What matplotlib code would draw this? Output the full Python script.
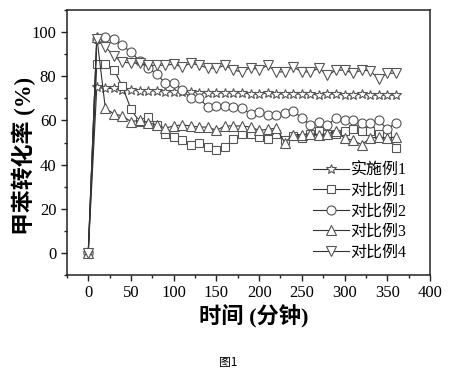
import numpy as np
import matplotlib
matplotlib.use('Agg')
import matplotlib.pyplot as plt
from matplotlib.ticker import MultipleLocator

plt.rcParams['font.family'] = ['Liberation Serif', 'Noto Sans CJK SC']
plt.rcParams['axes.unicode_minus'] = False

# time in minutes, 0..360 every 10
t = np.arange(0, 370, 10)

shishi1 = [0, 75, 74.5, 74.5, 74, 74, 73.5, 73.5, 73.5, 73, 73, 73, 73, 72.5, 72.5,
           72.5, 72.5, 72.5, 72.5, 72, 72, 72.5, 72, 72, 72, 72, 72, 71.5, 72, 72,
           71.5, 71.5, 72, 71.5, 71.5, 71.5, 71.5]
duibi1 = [0, 85.5, 85.5, 83, 75.5, 65, 59.5, 61.5, 58, 54, 52.5, 51, 49, 50, 48,
          46.5, 48, 51.5, 54, 54, 52.5, 51.5, 54, 51, 53, 52, 54, 55, 54, 54,
          55, 56, 55, 55, 54, 53, 47.5]
duibi2 = [0, 97, 98, 97, 94, 91, 87, 84, 81, 77, 77, 74, 70, 70, 66,
          66.5, 66.5, 66, 65.5, 63, 64, 62.5, 62.5, 63.5, 64.5, 61, 58, 59.5, 58, 61,
          60, 60, 59, 59, 60, 56, 59]
duibi3 = [0, 98, 65.5, 63, 62, 59.5, 60, 59, 58, 56.5, 57.5, 58, 57.5, 57, 57,
          55.5, 57.5, 57.5, 57.5, 57, 55.5, 56, 56.5, 50, 53.5, 53.5, 54, 53.5, 54, 55,
          52, 51, 49, 52, 52.5, 52, 52.5]
duibi4 = [0, 97, 93.5, 89, 86.5, 86, 86, 85, 85, 85, 85.5, 84.3, 86, 85, 83.7,
          83.7, 85, 82.8, 82, 84, 83, 85, 82, 82, 84.3, 82, 82, 83.7, 80.5, 82.8,
          82.8, 81.4, 82.8, 82.5, 78.7, 81.4, 81.4]

series = [shishi1, duibi1, duibi2, duibi3, duibi4]
labels = ['实施例1', '对比例1', '对比例2', '对比例3', '对比例4']
markers = ['*', 's', 'o', '^', 'v']
sizes = [7, 6, 6.5, 6.5, 6.5]

fig = plt.figure(figsize=(4.71, 3.76), dpi=100)
ax = fig.add_axes([0.142, 0.269, 0.771, 0.704])

for y, lab, m, ms in zip(series, labels, markers, sizes):
    ax.plot(t, y, color='#333333', lw=0.8, marker=m, ms=ms,
            mfc='white', mec='#555555', mew=0.8, label=lab)

ax.set_xlim(-25, 400)
ax.set_ylim(-10, 110)
ax.xaxis.set_major_locator(MultipleLocator(50))
ax.xaxis.set_minor_locator(MultipleLocator(25))
ax.yaxis.set_major_locator(MultipleLocator(20))
ax.yaxis.set_minor_locator(MultipleLocator(10))
ax.tick_params(which='both', direction='out', top=False, right=False,
               labelsize=12, width=1, color='#222222')
ax.tick_params(which='major', length=4)
ax.tick_params(which='minor', length=2.5)
for s in ax.spines.values():
    s.set_linewidth(1.1)
    s.set_color('#222222')

ax.set_xlabel('时间 (分钟)', fontsize=16, fontweight='bold', va='center')
ax.set_ylabel('甲苯转化率 (%)', fontsize=16.5, fontweight='bold', va='center')
ax.xaxis.set_label_coords(0.515, -0.16)
ax.yaxis.set_label_coords(-0.12, 0.45)

ax.legend(loc='lower right', bbox_to_anchor=(0.975, 0.0), frameon=False,
          fontsize=11.5, handlelength=2.25, handletextpad=0.1, labelspacing=0.28)

fig.text(0.485, 0.035, '图1', fontsize=8.5, ha='center', va='center',
         family=['Noto Sans CJK SC'])

fig.savefig('out.png', dpi=100)
